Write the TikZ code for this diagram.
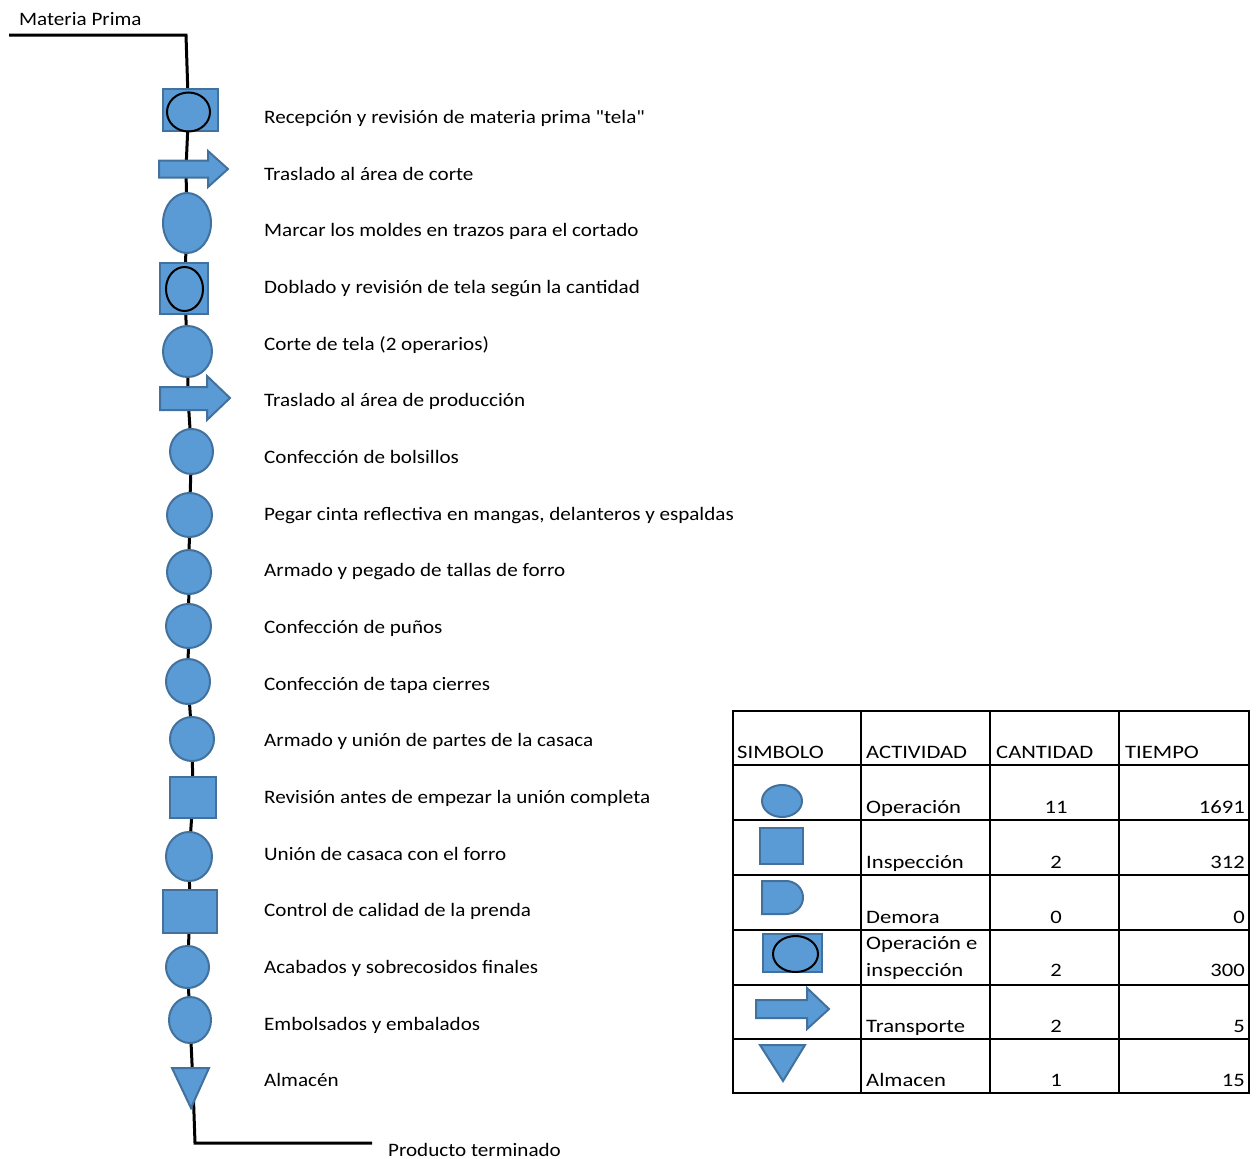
\documentclass[tikz,border=0pt]{standalone}
\usepackage{fontspec}
\setmainfont{Carlito}
\newfontfamily\lblfont[FakeStretch=1.11]{Carlito}
\newfontfamily\tabfont[FakeStretch=1.19]{Carlito}
\usetikzlibrary{shapes.geometric,backgrounds}
\definecolor{symfill}{HTML}{5B9BD5}
\definecolor{symdraw}{HTML}{41719C}
\begin{document}
\begin{tikzpicture}[x=1pt,y=-1pt,
  sym/.style={fill=symfill,draw=symdraw,line width=2pt},
  op/.style={sym,ellipse,inner sep=0pt},
  box/.style={sym,rectangle,inner sep=0pt},
  inner/.style={ellipse,draw=black,line width=2pt,inner sep=0pt},
  flow/.style={line width=3pt,black},
  lbl/.style={anchor=base west,inner sep=0pt,font=\lblfont\fontsize{19}{22}\selectfont},
  tlbl/.style={anchor=base west,inner sep=0pt,font=\tabfont\fontsize{19}{22}\selectfont},
  num/.style={anchor=base,inner sep=0pt,font=\tabfont\fontsize{19}{22}\selectfont},
  rnum/.style={anchor=base east,inner sep=0pt,font=\tabfont\fontsize{19}{22}\selectfont},
  grid/.style={line width=1.5pt,black}]
\useasboundingbox (0,0) rectangle (1256,1159);

% ---------- flow symbols ----------
\node[box,minimum width=55pt,minimum height=42pt] (s1) at (190,110) {};
\node[inner,minimum width=43pt,minimum height=39pt] (s1i) at (188.5,112) {};
\path[sym] (159,160.5) -- (208,160.5) -- (208,151) -- (228,169) -- (208,187) -- (208,177.5) -- (159,177.5) -- cycle;
\coordinate (s2) at (186,169);
\node[op,minimum width=48pt,minimum height=60pt] (s3) at (187,223) {};
\node[box,minimum width=48pt,minimum height=51pt] (s4) at (184,288.5) {};
\node[inner,minimum width=37pt,minimum height=44pt] (s4i) at (184.5,289) {};
\node[op,minimum width=49pt,minimum height=51pt] (s5) at (187.5,351.5) {};
\path[sym] (160,387) -- (207,387) -- (207,376) -- (230,398) -- (207,420) -- (207,410) -- (160,410) -- cycle;
\coordinate (s6) at (188,398);
\node[op,minimum width=43pt,minimum height=45pt] (s7) at (191.5,451.5) {};
\node[op,minimum width=45pt,minimum height=44pt] (s8) at (189.5,515) {};
\node[op,minimum width=44pt,minimum height=44pt] (s9) at (189,572) {};
\node[op,minimum width=45pt,minimum height=44pt] (s10) at (188.5,626) {};
\node[op,minimum width=44pt,minimum height=45pt] (s11) at (188,681.5) {};
\node[op,minimum width=44pt,minimum height=44pt] (s12) at (192,739) {};
\node[box,minimum width=46pt,minimum height=41pt] (s13) at (193,797.5) {};
\node[op,minimum width=46pt,minimum height=49pt] (s14) at (189,856.5) {};
\node[box,minimum width=54pt,minimum height=43pt] (s15) at (190,911.5) {};
\node[op,minimum width=43pt,minimum height=42pt] (s16) at (187.5,967) {};
\node[op,minimum width=42pt,minimum height=46pt] (s17) at (190,1020) {};
\path[sym] (172,1068) -- (209,1068) -- (191,1108) -- cycle;
\coordinate (s18) at (193,1085);

\coordinate (mpl) at (9,35);
\coordinate (mpr) at (186,35);
\coordinate (bend) at (195,1143);
\coordinate (pte) at (372,1143);

\begin{scope}[on background layer]
\draw[flow] (mpl) -- (mpr) -- (s1i.center) -- (s2) -- (s3.center) -- (s4i.center) -- (s5.center)
  -- (s6) -- (s7.center) -- (s8.center) -- (s9.center) -- (s10.center) -- (s11.center)
  -- (s12.center) -- (s13.center) -- (s14.center) -- (s15.center) -- (s16.center)
  -- (s17.center) -- (s18) -- (bend) -- (pte);
\end{scope}

% ---------- labels ----------
\node[lbl] (mp) at (19,25) {Materia Prima};
\node[lbl] (pt) at (388,1156) {Producto terminado};
\node[lbl] (l1) at (264,123) {Recepción y revisión de materia prima \symbol{34}tela\symbol{34}};
\node[lbl] (l2) at (264,180) {Traslado al área de corte};
\node[lbl] (l3) at (264,236) {Marcar los moldes en trazos para el cortado};
\node[lbl] (l4) at (264,293) {Doblado y revisión de tela según la cantidad};
\node[lbl] (l5) at (264,350) {Corte de tela (2 operarios)};
\node[lbl] (l6) at (264,406) {Traslado al área de producción};
\node[lbl] (l7) at (264,463) {Confección de bolsillos};
\node[lbl] (l8) at (264,520) {Pegar cinta reflectiva en mangas, delanteros y espaldas};
\node[lbl] (l9) at (264,576) {Armado y pegado de tallas de forro};
\node[lbl] (l10) at (264,633) {Confección de puños};
\node[lbl] (l11) at (264,690) {Confección de tapa cierres};
\node[lbl] (l12) at (264,746) {Armado y unión de partes de la casaca};
\node[lbl] (l13) at (264,803) {Revisión antes de empezar la unión completa};
\node[lbl] (l14) at (264,860) {Unión de casaca con el forro};
\node[lbl] (l15) at (264,916) {Control de calidad de la prenda};
\node[lbl] (l16) at (264,973) {Acabados y sobrecosidos finales};
\node[lbl] (l17) at (264,1030) {Embolsados y embalados};
\node[lbl] (l18) at (264,1086) {Almacén};

% ---------- table ----------
\draw[grid] (733,711) rectangle (1249,1093);
\foreach \x in {861,990,1119} \draw[grid] (\x,711) -- (\x,1093);
\foreach \y in {765,820,875,930,985,1039} \draw[grid] (733,\y) -- (1249,\y);

\node[tlbl] (h1) at (737,758) {SIMBOLO};
\node[tlbl] (h2) at (866,758) {ACTIVIDAD};
\node[tlbl] (h3) at (996,758) {CANTIDAD};
\node[tlbl] (h4) at (1125,758) {TIEMPO};

% symbols in table
\node[op,minimum width=40pt,minimum height=32pt] (t1) at (782,801) {};
\node[box,minimum width=43pt,minimum height=36pt] (t2) at (781.5,846) {};
\path[sym] (762,881) -- (786,881) arc[start angle=-90,end angle=90,x radius=17,y radius=16.5] -- (762,914) -- cycle;
\node[box,minimum width=59pt,minimum height=38pt] (t4) at (792.5,953) {};
\node[inner,minimum width=45pt,minimum height=36pt] (t4i) at (795.5,954) {};
\path[sym] (756,1000) -- (807,1000) -- (807,988) -- (829,1009) -- (807,1029) -- (807,1018) -- (756,1018) -- cycle;
\path[sym] (760,1045) -- (805,1045) -- (783,1081) -- cycle;

\node[tlbl] (a1) at (866,813) {Operación};
\node[tlbl] (a2) at (866,868) {Inspección};
\node[tlbl] (a3) at (866,923) {Demora};
\node[tlbl] (a4a) at (866,949) {Operación e};
\node[tlbl] (a4b) at (866,976) {inspección};
\node[tlbl] (a5) at (866,1032) {Transporte};
\node[tlbl] (a6) at (866,1086) {Almacen};

\node[num] (c1) at (1056,813) {11};
\node[num] (c2) at (1056,868) {2};
\node[num] (c3) at (1056,923) {0};
\node[num] (c4) at (1056,976) {2};
\node[num] (c5) at (1056,1032) {2};
\node[num] (c6) at (1056,1086) {1};

\node[rnum] (d1) at (1245,813) {1691};
\node[rnum] (d2) at (1245,868) {312};
\node[rnum] (d3) at (1245,923) {0};
\node[rnum] (d4) at (1245,976) {300};
\node[rnum] (d5) at (1245,1032) {5};
\node[rnum] (d6) at (1245,1086) {15};
\end{tikzpicture}
\end{document}
